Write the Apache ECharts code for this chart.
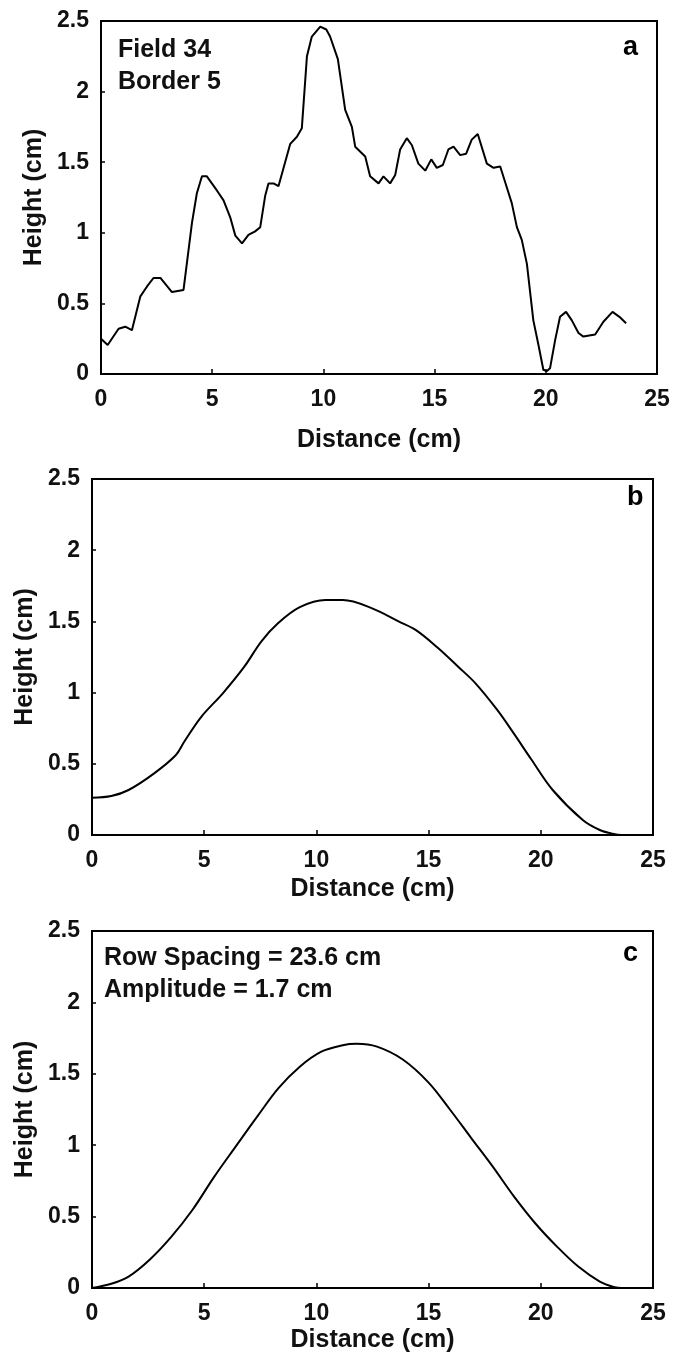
<!DOCTYPE html>
<html>
<head>
<meta charset="utf-8">
<script src="https://cdn.jsdelivr.net/npm/echarts@6/dist/echarts.min.js"></script>
<style>
	html, body { margin: 0; background: #fff; }
	#chart { width: 673px; height: 1366px; }
</style>
</head>
<body>
<div id="chart"></div>
<script>
// 数据 a: 实测剖面
var distA = [0, 0.3, 0.79, 1.09, 1.39, 1.77, 2.07, 2.36, 2.67, 3.19, 3.71, 4.09, 4.31, 4.54, 4.76, 5.21, 5.51, 5.81, 6.04, 6.34,
	6.63, 6.93, 7.16, 7.38, 7.53, 7.76, 7.98, 8.51, 8.81, 9.03, 9.26, 9.48, 9.86, 10.13, 10.3, 10.65, 10.98, 11.28, 11.43, 11.88,
	12.1, 12.48, 12.7, 13.0, 13.23, 13.45, 13.75, 13.98, 14.27, 14.58, 14.85, 15.1, 15.37, 15.62, 15.85, 16.15, 16.42, 16.67, 16.94, 17.35,
	17.65, 17.95, 18.17, 18.47, 18.7, 18.92, 19.15, 19.44, 19.67, 19.89, 20.04, 20.19, 20.42, 20.64, 20.91, 21.17, 21.47, 21.69, 22.22, 22.59,
	23.0, 23.31, 23.61]
var heightA = [0.25, 0.205, 0.32, 0.335, 0.31, 0.55, 0.62, 0.68, 0.68, 0.58, 0.595, 1.07, 1.28, 1.4, 1.4, 1.3, 1.23, 1.11, 0.98, 0.925,
	0.985, 1.01, 1.04, 1.26, 1.35, 1.35, 1.33, 1.63, 1.68, 1.74, 2.25, 2.39, 2.46, 2.44, 2.39, 2.23, 1.87, 1.75, 1.61, 1.54,
	1.4, 1.35, 1.4, 1.35, 1.41, 1.59, 1.67, 1.62, 1.49, 1.44, 1.52, 1.46, 1.48, 1.59, 1.61, 1.55, 1.56, 1.66, 1.7, 1.49,
	1.46, 1.47, 1.36, 1.21, 1.04, 0.95, 0.78, 0.38, 0.205, 0.03, 0.02, 0.04, 0.24, 0.405, 0.44, 0.38, 0.29, 0.265, 0.28, 0.37,
	0.44, 0.405, 0.36]
// 数据 b: 平滑剖面
var distB = [0, 0.86, 1.63, 2.77, 3.73, 4.11, 4.87, 5.83, 6.78, 7.55, 8.31, 9.26, 10.41, 11.18, 12.51, 13.66, 14.42, 15.37, 16.33, 17.09,
	18.05, 18.81, 19.58, 20.53, 21.87, 22.63, 23.3, 23.6]
var heightB = [0.262, 0.274, 0.316, 0.433, 0.56, 0.655, 0.83, 0.995, 1.18, 1.36, 1.49, 1.6, 1.65, 1.65, 1.59, 1.5, 1.44, 1.32, 1.18, 1.065,
	0.88, 0.71, 0.53, 0.316, 0.105, 0.035, 0.005, 0]
// 数据 c: 正弦拟合
var distC = [0, 0.86, 1.63, 2.58, 3.54, 4.49, 5.45, 6.4, 7.36, 8.31, 9.26, 10.22, 11.17, 11.8, 12.7, 13.85, 14.99, 15.95, 16.9, 17.86,
	18.81, 19.77, 20.72, 21.67, 22.63, 23.3, 23.6]
var heightC = [0, 0.03, 0.08, 0.2, 0.36, 0.55, 0.78, 0.99, 1.2, 1.4, 1.55, 1.655, 1.7, 1.71, 1.69, 1.6, 1.44, 1.25, 1.05, 0.85,
	0.64, 0.45, 0.29, 0.15, 0.045, 0.005, 0]
var xTicks = [0, 5, 10, 15, 20, 25]
var yTicks = [0, 0.5, 1, 1.5, 2, 2.5]

var FONT = "'Liberation Sans', Arial, Helvetica, sans-serif"

function pairs(xs, ys) {
	return xs.map(function (x, i) { return [x, ys[i]] })
}

function xAxis(idx, gap) {
	return {
		type: 'value', gridIndex: idx, min: xTicks[0], max: xTicks[xTicks.length - 1], interval: 5,
		name: 'Distance (cm)', nameLocation: 'middle', nameGap: gap,
		nameTextStyle: { fontFamily: FONT, fontSize: 25, fontWeight: 'bold', color: '#111' },
		axisLine: { onZero: false, lineStyle: { color: '#000', width: 2 } },
		axisTick: { inside: true, length: 5, lineStyle: { color: '#000', width: 1.5 } },
		axisLabel: { margin: 14, fontFamily: FONT, fontSize: 23, fontWeight: 'bold', color: '#111' },
		splitLine: { show: false }
	}
}

function yAxis(idx, gap) {
	return {
		type: 'value', gridIndex: idx, min: yTicks[0], max: yTicks[yTicks.length - 1], interval: 0.5,
		name: 'Height (cm)', nameLocation: 'middle', nameGap: gap,
		nameTextStyle: { fontFamily: FONT, fontSize: 25, fontWeight: 'bold', color: '#111' },
		axisLine: { onZero: false, lineStyle: { color: '#000', width: 2 } },
		axisTick: { inside: true, length: 4, lineStyle: { color: '#000', width: 1.5 } },
		axisLabel: { margin: 12, fontFamily: FONT, fontSize: 23, fontWeight: 'bold', color: '#111' },
		splitLine: { show: false }
	}
}

function lineSeries(idx, data, smooth) {
	return {
		type: 'line', xAxisIndex: idx, yAxisIndex: idx, data: data,
		showSymbol: false, smooth: smooth, animation: false,
		lineStyle: { color: '#000', width: 2 }
	}
}

var chart = echarts.init(document.getElementById('chart'))
chart.setOption({
	backgroundColor: '#fff',
	animation: false,
	grid: [
		{ left: 101, top: 21, width: 556, height: 353, show: true, borderColor: '#000', borderWidth: 2 },
		{ left: 92, top: 479, width: 561, height: 356, show: true, borderColor: '#000', borderWidth: 2 },
		{ left: 92, top: 931, width: 561, height: 357, show: true, borderColor: '#000', borderWidth: 2 }
	],
	xAxis: [xAxis(0, 54), xAxis(1, 42), xAxis(2, 40)],
	yAxis: [yAxis(0, 53), yAxis(1, 53), yAxis(2, 53)],
	series: [
		lineSeries(0, pairs(distA, heightA), false),
		lineSeries(1, pairs(distB, heightB), 0.35),
		lineSeries(2, pairs(distC, heightC), 0.35)
	],
	graphic: [
		{ type: 'text', left: 118, top: 34, style: { text: 'Field 34\nBorder 5', fill: '#111', font: 'bold 25px ' + FONT, lineHeight: 32 } },
		{ type: 'text', left: 623, top: 34, style: { text: 'a', fill: '#000', font: 'bold 27px ' + FONT } },
		{ type: 'text', left: 627, top: 484, style: { text: 'b', fill: '#000', font: 'bold 27px ' + FONT } },
		{ type: 'text', left: 623, top: 940, style: { text: 'c', fill: '#000', font: 'bold 27px ' + FONT } },
		{ type: 'text', left: 104, top: 942, style: { text: 'Row Spacing = 23.6 cm\nAmplitude = 1.7 cm', fill: '#111', font: 'bold 25px ' + FONT, lineHeight: 32 } }
	]
})
</script>
</body>
</html>
